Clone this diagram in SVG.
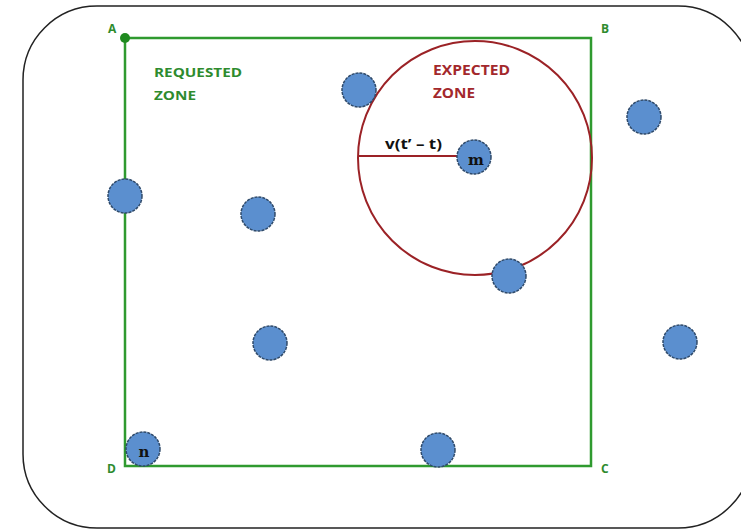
<svg xmlns="http://www.w3.org/2000/svg" width="741" height="531" viewBox="0 0 741 531">
<style>
.node{fill:#5b8fcf;stroke:#2f4a6a;stroke-width:1.5;stroke-dasharray:3 1}
.lbl{font-family:"Open Sans","Liberation Sans",sans-serif;font-weight:bold}
.g{fill:#2e8b2e}
.r{fill:#a3282c}
.nl{font-family:"DejaVu Serif","Liberation Serif",serif;font-weight:bold;font-size:15px;fill:#111;text-anchor:middle}
</style>
<rect x="0" y="0" width="741" height="531" fill="#ffffff"/>
<rect x="23" y="6" width="729" height="522" rx="74" ry="74" fill="none" stroke="#222" stroke-width="1.5"/>
<g id="zone">
<rect x="125" y="38" width="466" height="428" fill="none" stroke="#2f9a2f" stroke-width="2.5"/>
<circle cx="125" cy="38" r="5" fill="#1f8a1f"/>
<text class="lbl g" x="108" y="33" font-size="12">A</text>
<text class="lbl g" x="601" y="33" font-size="12">B</text>
<text class="lbl g" x="601" y="473" font-size="12">C</text>
<text class="lbl g" x="107" y="473" font-size="12">D</text>
<text class="lbl g" x="154" y="77" font-size="13" textLength="88" lengthAdjust="spacingAndGlyphs">REQUESTED</text>
<text class="lbl g" x="154" y="100" font-size="13" textLength="42" lengthAdjust="spacingAndGlyphs">ZONE</text>
</g>
<g id="expected">
<circle cx="475" cy="158" r="117" fill="none" stroke="#9b2226" stroke-width="2"/>
<line x1="358" y1="156" x2="462" y2="156" stroke="#9b2226" stroke-width="2"/>
<text class="lbl" x="385" y="149" font-size="14" fill="#111" textLength="57" lengthAdjust="spacingAndGlyphs">v(t’ – t)</text>
<text class="lbl r" x="433" y="75" font-size="13.5" textLength="77" lengthAdjust="spacingAndGlyphs">EXPECTED</text>
<text class="lbl r" x="433" y="98" font-size="13.5" textLength="42" lengthAdjust="spacingAndGlyphs">ZONE</text>
</g>
<g id="nodes">
<g id="n1"><circle class="node" cx="359" cy="90" r="17"/></g>
<g id="n2"><circle class="node" cx="644" cy="117" r="17"/></g>
<g id="m"><circle class="node" cx="474" cy="157" r="17"/><text class="nl" x="476" y="165">m</text></g>
<g id="n3"><circle class="node" cx="125" cy="196" r="17"/></g>
<g id="n4"><circle class="node" cx="258" cy="214" r="17"/></g>
<g id="n5"><circle class="node" cx="509" cy="276" r="17"/></g>
<g id="n6"><circle class="node" cx="270" cy="343" r="17"/></g>
<g id="n7"><circle class="node" cx="680" cy="342" r="17"/></g>
<g id="n"><circle class="node" cx="143" cy="449" r="17"/><text class="nl" x="144" y="457">n</text></g>
<g id="n8"><circle class="node" cx="438" cy="450" r="17"/></g>
</g>
</svg>
